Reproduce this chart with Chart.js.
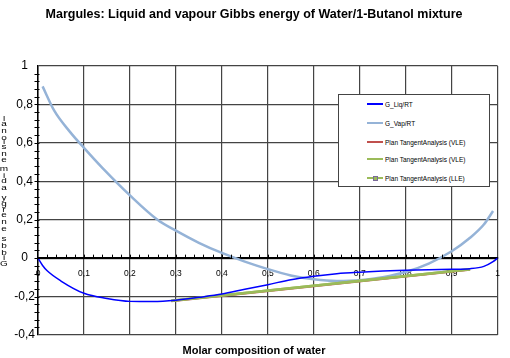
<!DOCTYPE html>
<html>
<head>
<meta charset="utf-8">
<script src="https://cdn.jsdelivr.net/npm/chart.js@4/dist/chart.umd.min.js"></script>
<style>
  html, body { margin: 0; padding: 0; background: #fff; }
  #wrap { position: relative; width: 510px; height: 358px; }
  #legend { position: absolute; left: 338px; top: 94px; width: 150px; height: 91px;
            border: 1px solid #444; background: #fff; font-family: "Liberation Sans", Arial, sans-serif;
            font-size: 6.5px; color: #000; }
  .item { position: absolute; left: 28px; height: 8px; display: flex; align-items: center; white-space: nowrap; }
  .sw { position: relative; width: 16px; height: 8px; margin-right: 2px; }
  .sw .ln { position: absolute; left: 0; right: 0; top: 3px; }
  .sw .mk { position: absolute; left: 6px; top: 2px; width: 3px; height: 3px; border: 1px solid #7a6a9a; background: #9BBB59; }
</style>
</head>
<body>
<div id="wrap">
  <canvas id="c" width="510" height="358"></canvas>
  <div id="legend"></div>
</div>
<script>
// ---- data ----
const chartTitle = 'Margules: Liquid and vapour Gibbs energy of Water/1-Butanol mixture';
const xAxisTitle = 'Molar composition of water';
const yAxisTitle = 'Gibbs energy adimensional';

const xLiq = [0, 0.01, 0.02, 0.05, 0.1, 0.15, 0.2, 0.25, 0.3, 0.35, 0.4, 0.45, 0.5, 0.55, 0.6, 0.65, 0.7, 0.75, 0.8, 0.85, 0.9, 0.94, 0.97, 0.99, 1];
const gLiq = [0, -0.038, -0.066, -0.119, -0.183, -0.21, -0.225, -0.226, -0.219, -0.204, -0.187, -0.162, -0.138, -0.112, -0.094, -0.081, -0.073, -0.067, -0.063, -0.060, -0.058, -0.055, -0.043, -0.018, 0];

const xVap = [0.01, 0.035, 0.07, 0.1, 0.14, 0.2, 0.26, 0.3, 0.35, 0.4, 0.45, 0.5, 0.55, 0.6, 0.65, 0.7, 0.75, 0.8, 0.85, 0.9, 0.94, 0.97, 0.99];
const gVap = [0.894, 0.769, 0.656, 0.574, 0.47, 0.327, 0.2, 0.143, 0.08, 0.027, -0.018, -0.057, -0.09, -0.11, -0.119, -0.115, -0.099, -0.072, -0.028, 0.036, 0.106, 0.175, 0.245];

const xTanVLE = [0.29, 0.94];
const gTanVLE1 = [-0.225, -0.061];
const gTanVLE2 = [-0.222, -0.058];
const xTanLLE = [0.29, 0.94];
const gTanLLE = [-0.222, -0.058];

const seriesNames = ['G_Liq/RT', 'G_Vap/RT', 'Plan TangentAnalysis (VLE)', 'Plan TangentAnalysis (VLE)', 'Plan TangentAnalysis (LLE)'];
const seriesColors = ['#0000FF', '#95B3D7', '#C0504D', '#9BBB59', '#9BBB59'];

const xMin = 0, xMax = 1, xStep = 0.1, xMinorStep = 0.02;
const yMin = -0.4, yMax = 1, yStep = 0.2, yMinorStep = 0.04;

// ---- helpers ----
const pts = (xs, ys) => xs.map((x, i) => ({ x: x, y: ys[i] }));
const fmt = v => { const r = Math.round(v * 10) / 10; return r === 0 ? '0' : String(r).replace('.', ','); };
const FONT = '"Liberation Sans", Arial, sans-serif';

const extras = {
  id: 'extras',
  afterDraw(chart) {
    const ctx = chart.ctx;
    const xs = chart.scales.x, ys = chart.scales.y;
    const y0 = ys.getPixelForValue(0);
    const x0 = xs.getPixelForValue(0);
    ctx.save();
    ctx.strokeStyle = '#000';
    ctx.lineWidth = 1;
    ctx.beginPath();
    const nx = Math.round((xMax - xMin) / xMinorStep);
    for (let i = 1; i < nx; i++) {
      const px = Math.round(xs.getPixelForValue(xMin + i * xMinorStep)) + 0.5;
      ctx.moveTo(px, y0 - 3.5); ctx.lineTo(px, y0);
    }
    const ny = Math.round((yMax - yMin) / yMinorStep);
    for (let i = 1; i < ny; i++) {
      const py = Math.round(ys.getPixelForValue(yMin + i * yMinorStep)) + 0.5;
      ctx.moveTo(x0 - 3.5, py); ctx.lineTo(x0 + 1.5, py);
    }
    ctx.stroke();
    // stacked y-axis title (upright glyphs, bottom to top)
    ctx.fillStyle = '#000';
    ctx.textAlign = 'center';
    ctx.textBaseline = 'middle';
    let y = ys.getPixelForValue(-0.055);
    for (const ch of yAxisTitle) {
      ctx.font = '12.5px ' + FONT;
      const adv = ctx.measureText(ch).width;
      const cy = y - adv / 2;
      if (ch !== ' ') {
        ctx.save();
        ctx.translate(4, cy);
        ctx.scale(1, 0.78);
        ctx.font = '10px ' + FONT;
        ctx.fillText(ch, 0, 0);
        ctx.restore();
      }
      y -= adv;
    }
    ctx.restore();
  }
};

const mk = (label, data, color, width, order) => ({
  label, data, borderColor: color, backgroundColor: color, borderWidth: width,
  pointRadius: 0, fill: false, cubicInterpolationMode: 'monotone', order
});

Chart.defaults.color = '#000';
Chart.defaults.font.family = FONT;

new Chart(document.getElementById('c'), {
  type: 'line',
  data: {
    datasets: [
      mk(seriesNames[0], pts(xLiq, gLiq), seriesColors[0], 1.5, 1),
      mk(seriesNames[1], pts(xVap, gVap), seriesColors[1], 2.5, 4),
      mk(seriesNames[2], pts(xTanVLE, gTanVLE1), seriesColors[2], 2, 5),
      mk(seriesNames[3], pts(xTanVLE, gTanVLE2), seriesColors[3], 2.5, 3),
      mk(seriesNames[4], pts(xTanLLE, gTanLLE), seriesColors[4], 2.5, 2)
    ]
  },
  options: {
    responsive: false,
    animation: false,
    devicePixelRatio: 1,
    layout: { padding: { left: 0, right: 2, top: 0, bottom: 0 } },
    plugins: {
      legend: { display: false },
      tooltip: { enabled: false },
      title: {
        display: true, text: chartTitle,
        font: { size: 12.5, weight: 'bold', family: FONT },
        padding: { top: 7.5, bottom: 43.5 }
      },
      subtitle: {
        display: true, text: xAxisTitle, position: 'bottom',
        font: { size: 11, weight: 'bold', family: FONT },
        padding: { top: 9.4, bottom: 0.4 }
      }
    },
    scales: {
      x: {
        type: 'linear', min: xMin, max: xMax, position: { y: 0 },
        ticks: { stepSize: xStep, callback: fmt, font: { size: 8.5 }, padding: 10, maxRotation: 0, autoSkip: false },
        grid: { color: '#444', lineWidth: 1.2, drawTicks: false },
        border: { color: '#000', width: 2 }
      },
      y: {
        type: 'linear', min: yMin, max: yMax,
        ticks: { stepSize: yStep, callback: fmt, font: { size: 12 }, padding: 3, crossAlign: 'center' },
        grid: { color: '#444', lineWidth: 1.2, drawTicks: false },
        border: { color: '#000', width: 1.5 },
        afterFit: s => { s.width = 38; }
      }
    }
  },
  plugins: [extras]
});

// HTML legend
const legend = document.getElementById('legend');
const tops = [5, 24, 43, 60, 79];
seriesNames.forEach((name, i) => {
  const it = document.createElement('div');
  it.className = 'item';
  it.style.top = tops[i] + 'px';
  const sw = document.createElement('div');
  sw.className = 'sw';
  const ln = document.createElement('div');
  ln.className = 'ln';
  ln.style.borderTop = (i === 0 ? 2 : 2.5) + 'px solid ' + seriesColors[i];
  sw.appendChild(ln);
  if (i === 4) { const m = document.createElement('div'); m.className = 'mk'; sw.appendChild(m); }
  it.appendChild(sw);
  const t = document.createElement('span');
  t.textContent = name;
  it.appendChild(t);
  legend.appendChild(it);
});
</script>
</body>
</html>
